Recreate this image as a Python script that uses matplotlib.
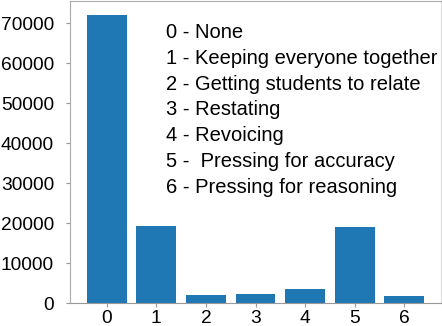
import matplotlib
matplotlib.use("Agg")
import matplotlib.pyplot as plt

categories = [0, 1, 2, 3, 4, 5, 6]
counts = [72000, 19200, 1900, 2300, 3500, 19100, 1750]
labels = ["0 - None",
          "1 - Keeping everyone together",
          "2 - Getting students to relate",
          "3 - Restating",
          "4 - Revoicing",
          "5 -  Pressing for accuracy",
          "6 - Pressing for reasoning"]

plt.rcParams['font.family'] = ['Liberation Sans', 'DejaVu Sans']

fig = plt.figure(figsize=(4.42, 3.26), dpi=100)
ax = fig.add_axes([70/442, 23/326, 371/442, 302/326])
ax.bar(categories, counts, width=0.8, color='#1f77b4')
ax.set_xticks(categories)
ax.set_yticks([0, 10000, 20000, 30000, 40000, 50000, 60000, 70000])
ax.tick_params(labelsize=13.8, length=3, color='#999999')
ax.tick_params(axis='y', pad=8.5)
ax.tick_params(axis='x', pad=2)
for s in ax.spines.values():
    s.set_color('#aaaaaa')
ax.spines['right'].set_color('#dddddd')
ax.spines['bottom'].set_color('#999999')

for i, lab in enumerate(labels):
    ax.text(0.259, 0.8775 - i*0.0854, lab, transform=ax.transAxes,
            fontsize=14.5, va='baseline', ha='left')

fig.savefig("out.png", dpi=100)
